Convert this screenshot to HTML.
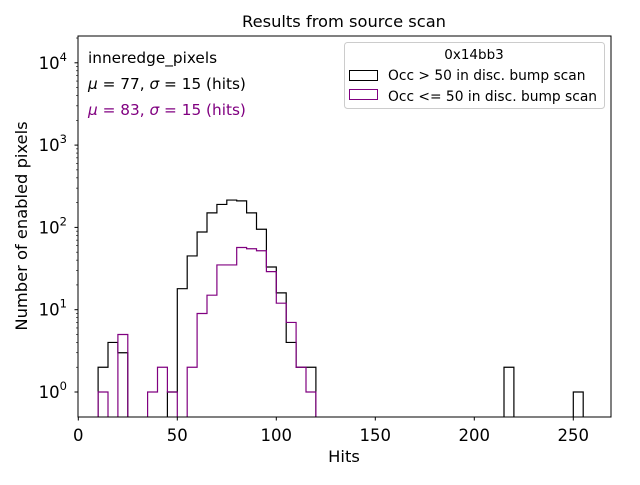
<!DOCTYPE html>
<html><head><meta charset="utf-8"><style>
body{margin:0;background:#fff}
text{font-family:"DejaVu Sans","Liberation Sans",sans-serif}
</style></head><body>
<svg id="chart" width="640" height="480" xmlns="http://www.w3.org/2000/svg">
<rect width="640" height="480" fill="#fff"/>
<defs><clipPath id="pc"><rect x="78" y="36" width="533" height="381"/></clipPath></defs>
<g id="series" clip-path="url(#pc)"></g>
<rect x="78" y="36" width="533" height="381" fill="none" stroke="#000" stroke-width="1"/>
<g id="axes"></g>
<text x="344" y="27" font-size="16.3" text-anchor="middle">Results from source scan</text>
<text x="344" y="462" font-size="16.3" text-anchor="middle">Hits</text>
<text transform="translate(27,226) rotate(-90)" font-size="16.3" text-anchor="middle">Number of enabled pixels</text>
<text x="88" y="63" font-size="15.3">inneredge_pixels</text>
<text x="88" y="89" font-size="15.3"><tspan font-style="italic">μ</tspan> = 77, <tspan font-style="italic">σ</tspan> = 15 (hits)</text>
<text x="88" y="115" font-size="15.3" fill="#800080"><tspan font-style="italic">μ</tspan> = 83, <tspan font-style="italic">σ</tspan> = 15 (hits)</text>
<g>
<rect x="344.5" y="42.5" width="260" height="66" rx="3" fill="#fff" fill-opacity="0.8" stroke="#ccc"/>
<text x="474" y="59" font-size="13.5" text-anchor="middle">0x14bb3</text>
<rect x="349.5" y="70.5" width="28" height="10" fill="none" stroke="#000"/>
<text x="388" y="80" font-size="13.8">Occ &gt; 50 in disc. bump scan</text>
<rect x="349.5" y="89.5" width="28" height="10" fill="none" stroke="#800080"/>
<text x="388" y="101" font-size="13.8">Occ &lt;= 50 in disc. bump scan</text>
</g>
</svg>
<script>
const binStarts = [];
for (let b = 0; b < 270; b += 5) binStarts.push(b);
const blackBins = {10:2,15:4,20:3,45:1,50:18,55:45,60:88,65:150,70:190,75:215,80:210,85:150,90:95,95:33,100:16,105:4,110:2,115:2,215:2,250:1};
const magentaBins = {10:1,20:5,35:1,40:2,45:1,55:2,60:9,65:15,70:35,75:35,80:57,85:55,90:52,95:29,100:12,105:7,110:2,115:1};
const xTicks = [0,50,100,150,200,250];
const yTickExps = [0,1,2,3,4];
const binWidth = 5;
const X0=78.3, XPX=1.98, Y1=392, DEC=82.3;
function xs(v){return X0+v*XPX;}
function ys(v){return v<=0?460:Y1-Math.log10(v)*DEC;}
const NS='http://www.w3.org/2000/svg';
const series=document.getElementById('series');
function drawHist(bins,color,name){
  let d='M'+xs(binStarts[0])+','+ys(0);
  binStarts.forEach(b=>{const v=bins[b]||0;const y=ys(v);d+=' L'+xs(b)+','+y+' L'+xs(b+binWidth)+','+y;});
  d+=' L'+xs(binStarts[binStarts.length-1]+binWidth)+','+ys(0);
  const p=document.createElementNS(NS,'path');
  p.setAttribute('d',d);p.setAttribute('fill','none');p.setAttribute('stroke',color);p.setAttribute('stroke-width','1.2');
  
  
  series.appendChild(p);
}
drawHist(blackBins,'#000','histogram-occ-above-50');
drawHist(magentaBins,'#800080','histogram-occ-below-50');
const axes=document.getElementById('axes');
xTicks.forEach(t=>{
  const x=xs(t);
  const l=document.createElementNS(NS,'line');
  l.setAttribute('x1',x);l.setAttribute('x2',x);l.setAttribute('y1',417);l.setAttribute('y2',420.5);l.setAttribute('stroke','#000');
  
  
  axes.appendChild(l);
  const tx=document.createElementNS(NS,'text');
  tx.setAttribute('x',x);tx.setAttribute('y',441);tx.setAttribute('font-size','16.5');tx.setAttribute('text-anchor','middle');
  tx.textContent=t;
  
  
  axes.appendChild(tx);
});
yTickExps.forEach(e=>{
  const y=ys(Math.pow(10,e));
  const l=document.createElementNS(NS,'line');
  l.setAttribute('x1',74.5);l.setAttribute('x2',78);l.setAttribute('y1',y);l.setAttribute('y2',y);l.setAttribute('stroke','#000');
  
  
  axes.appendChild(l);
  const tx=document.createElementNS(NS,'text');
  tx.setAttribute('x',67);tx.setAttribute('y',y+6);tx.setAttribute('font-size','16.5');tx.setAttribute('text-anchor','end');
  tx.innerHTML='10<tspan font-size="11.5" dy="-8">'+e+'</tspan>';
  
  
  axes.appendChild(tx);
  for(let m=2;m<10;m++){
    const v=m*Math.pow(10,e);const yy=ys(v);
    if(yy<36||yy>417)continue;
    const ml=document.createElementNS(NS,'line');
    ml.setAttribute('x1',76);ml.setAttribute('x2',78);ml.setAttribute('y1',yy);ml.setAttribute('y2',yy);ml.setAttribute('stroke','#000');ml.setAttribute('stroke-width','0.6');
    
    
    axes.appendChild(ml);
  }
});
</script>
</body></html>
